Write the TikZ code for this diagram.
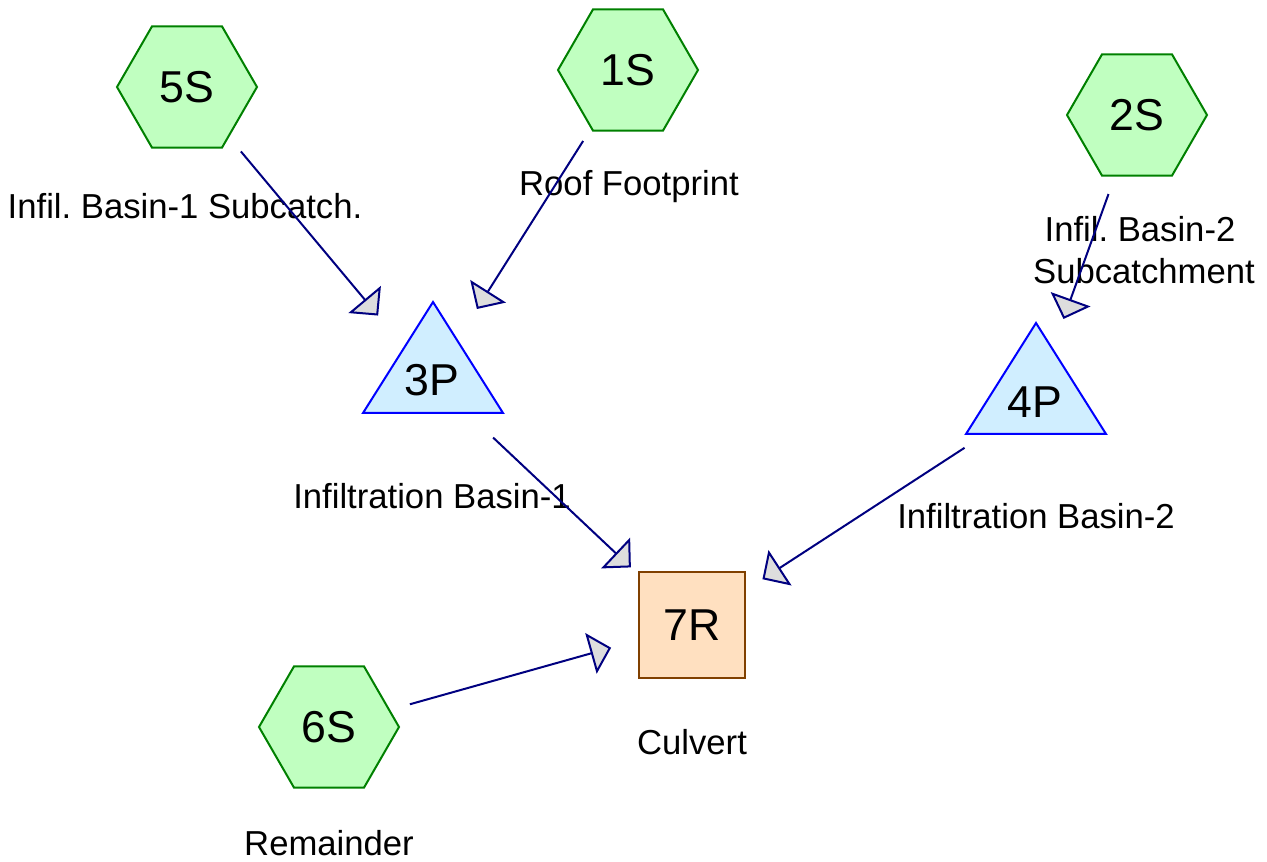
\documentclass[tikz,border=0pt]{standalone}
\usepackage{fontspec}
\setmainfont{Liberation Sans}
\usetikzlibrary{shapes.geometric,arrows.meta}

\definecolor{subfill}{HTML}{C0FFC0}
\definecolor{subline}{HTML}{008000}
\definecolor{pondfill}{HTML}{D0EEFF}
\definecolor{pondline}{HTML}{0000FF}
\definecolor{reachfill}{HTML}{FFE0C0}
\definecolor{reachline}{HTML}{804000}
\definecolor{flowline}{HTML}{000080}
\definecolor{tipfill}{HTML}{DDDDDD}

\tikzset{every picture/.style={line width=1.5pt}}
\frenchspacing

\begin{document}
\begin{tikzpicture}[x=0.75pt,y=0.75pt,yscale=-1,xscale=1,
  idtext/.style={font=\fontsize{33.5}{40}\selectfont, inner sep=0pt},
  subcatch/.style={idtext, regular polygon, regular polygon sides=6, minimum size=105pt, draw=subline, fill=subfill},
  reach/.style={idtext, rectangle, minimum size=79.5pt, draw=reachline, fill=reachfill},
  pond/.style={draw=pondline, fill=pondfill, line join=miter},
  lbl/.style={font=\fontsize{26}{31}\selectfont, align=center, inner sep=0pt},
  flow/.style={draw=flowline, shorten <=63pt, shorten >=63pt,
    -{Triangle[length=15.75pt,width=31.5pt,fill=tipfill]}}]
\useasboundingbox (0,0) rectangle (1267,862);

%Shape: Hexagon [subcatchments]
\node[subcatch] (5S) at (187,87) {5S};
\node[subcatch] (1S) at (628,70) {1S};
\node[subcatch] (2S) at (1137,115) {2S};
\node[subcatch] (6S) at (329,727) {6S};

%Shape: Triangle [ponds]
\draw[pond] (433,302) -- (503,413) -- (363,413) -- cycle;
\draw[pond] (1036,323) -- (1106,434) -- (966,434) -- cycle;
\node[idtext] (3P) at (432,380) {3P};
\node[idtext] (4P) at (1035,402) {4P};

%Shape: Square [reach]
\node[reach] (7R) at (692,625) {7R};

% Text Node
\node[lbl] (5S-lbl) at (185,206) {Infil. Basin-1 Subcatch.};
% Text Node
\node[lbl] (1S-lbl) at (629,187) {Roof Footprint};
% Text Node
\node[lbl] (2S-lbl) at (1140,250) {Infil. Basin-2\\ \hspace*{6pt}Subcatchment};
% Text Node
\node[lbl] (3P-lbl) at (432,496) {Infiltration Basin-1};
% Text Node
\node[lbl] (4P-lbl) at (1036,516) {Infiltration Basin-2};
% Text Node
\node[lbl] (7R-lbl) at (692,742) {Culvert};
% Text Node
\node[lbl] (6S-lbl) at (329,843) {Remainder};

%Straight Lines [flows]
\draw[flow] (5S.center) -- (3P.center);
\draw[flow] (1S.center) -- (3P.center);
\draw[flow] (2S.center) -- ([yshift=-3pt]4P.center);
\draw[flow] (3P.center) -- (7R.center);
\draw[flow] (4P.center) -- (7R.center);
\draw[flow] (6S.center) -- (7R.center);

\end{tikzpicture}
\end{document}
